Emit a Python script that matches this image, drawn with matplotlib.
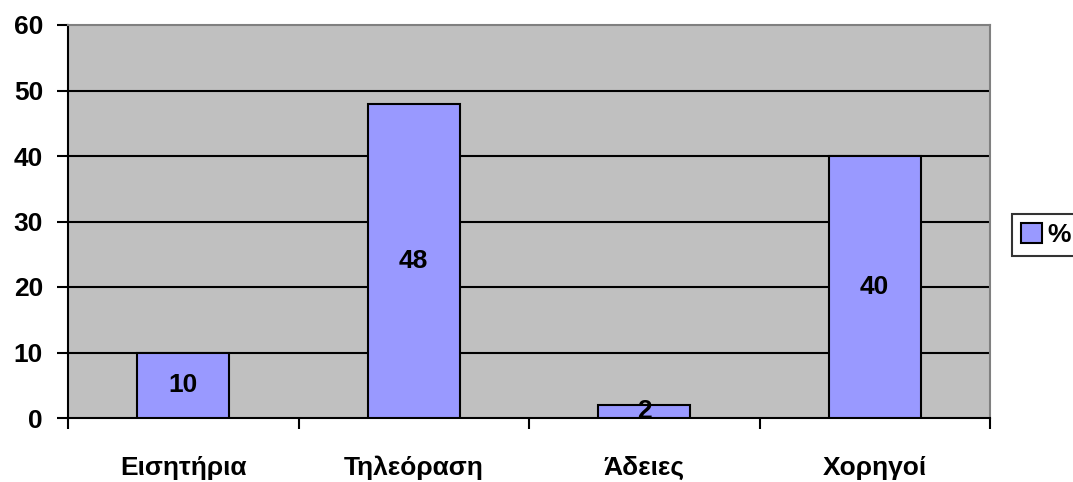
import matplotlib.pyplot as plt
import matplotlib.patches as mpatches

categories = ['Εισητήρια', 'Τηλεόραση', 'Άδειες', 'Χορηγοί']
values = [10, 48, 2, 40]
series_name = '%'
y_ticks = [0, 10, 20, 30, 40, 50, 60]

plt.rcParams['font.family'] = ['Liberation Sans', 'DejaVu Sans']
plt.rcParams['font.weight'] = 'bold'
FS = 19

fig = plt.figure(figsize=(10.73, 4.82), dpi=100)
ax = fig.add_axes([68 / 1073, 64 / 482, 922 / 1073, 393 / 482])
ax.set_facecolor('#C0C0C0')

x = range(len(categories))
bars = ax.bar(x, values, width=0.4, color='#9999FF', edgecolor='black', linewidth=1.5, zorder=3)
for rect, v in zip(bars, values):
    ax.text(rect.get_x() + rect.get_width() / 2, v / 2, str(v), ha='center', va='center',
            fontsize=FS, fontweight='bold', zorder=4)

ax.set_xlim(-0.5, len(categories) - 0.5)
ax.set_ylim(0, 60)
ax.set_yticks(y_ticks)
ax.set_yticklabels([str(t) for t in y_ticks], fontsize=FS, fontweight='bold')
for t in y_ticks[1:-1]:
    ax.axhline(t, color='black', linewidth=1.5, zorder=2)

# category ticks sit between the bars, labels centred under each bar
ax.set_xticks([i - 0.5 for i in range(len(categories) + 1)])
ax.set_xticklabels([])
ax.set_xticks(list(x), minor=True)
ax.set_xticklabels(categories, minor=True, fontsize=FS, fontweight='bold')
ax.tick_params(axis='x', which='major', direction='out', length=8, width=1.5)
ax.tick_params(axis='x', which='minor', length=0, pad=27)
ax.tick_params(axis='y', direction='out', length=8, width=1.5, pad=10)

ax.spines['left'].set_linewidth(1.5)
ax.spines['bottom'].set_linewidth(1.5)
ax.spines['top'].set_color('#808080')
ax.spines['right'].set_color('#808080')
ax.spines['top'].set_linewidth(1.5)
ax.spines['right'].set_linewidth(1.5)

handle = mpatches.Patch(facecolor='#9999FF', edgecolor='black', linewidth=1.5, label=series_name)
leg = fig.legend(handles=[handle], loc='center left', bbox_to_anchor=(1012 / 1073, 1 - 235 / 482),
                 frameon=True, fancybox=False, edgecolor='black', prop={'size': FS, 'weight': 'bold'},
                 handlelength=0.8, handleheight=0.8, handletextpad=0.2, borderpad=0.35, borderaxespad=0)
leg.get_frame().set_linewidth(1.5)

fig.savefig('out.png', dpi=100, facecolor='white')
